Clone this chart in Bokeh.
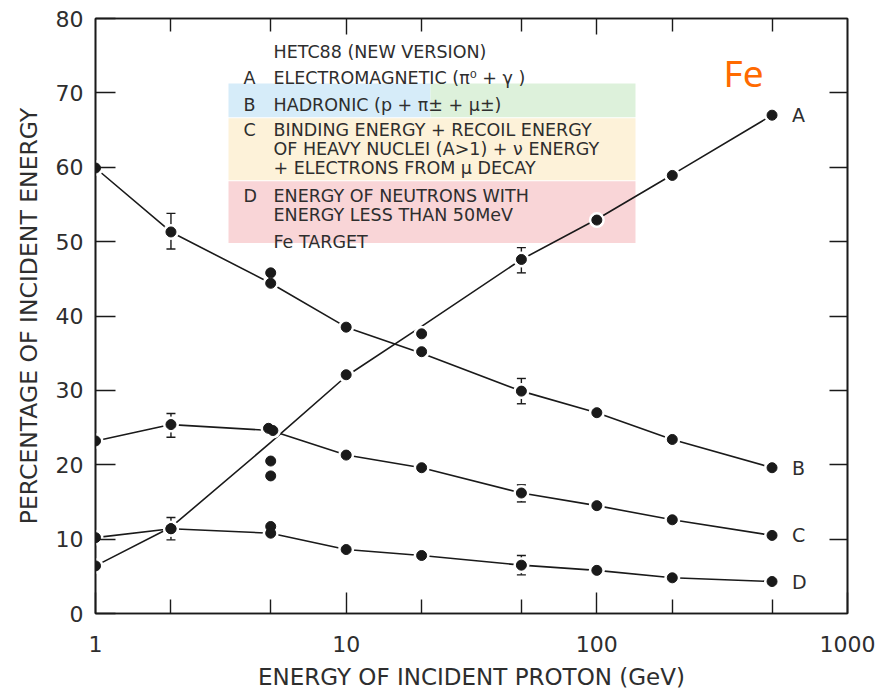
import math
from bokeh.plotting import figure
from bokeh.models import (FixedTicker, LogAxis, LinearAxis, BasicTickFormatter,
                          Whisker, TeeHead, ColumnDataSource)
from bokeh.core.properties import value
from bokeh.embed import file_html
from bokeh.resources import INLINE

# ---------------- data ----------------
energy = [1, 2, 5, 10, 20, 50, 100, 200, 500]

curve_A = [6.4, 11.6, 23.0, 31.9, 38.6, 47.6, 53.0, 59.0, 67.0]
curve_B = [59.9, 51.3, 44.4, 38.5, 35.0, 29.9, 27.0, 23.4, 19.6]
curve_C = [23.2, 25.4, 24.6, 21.3, 19.6, 16.2, 14.5, 12.6, 10.5]
curve_D = [10.2, 11.4, 10.8, 8.6, 7.8, 6.5, 5.8, 4.8, 4.3]

dots_A_x = [1, 2, 5, 5, 10, 20, 50, 100, 200, 500]
dots_A_y = [6.4, 11.4, 20.5, 18.5, 32.1, 37.6, 47.6, 52.9, 58.9, 67.0]
dots_B_x = [1, 2, 5, 5, 10, 20, 50, 100, 200, 500]
dots_B_y = [59.9, 51.3, 45.8, 44.4, 38.5, 35.2, 29.9, 27.0, 23.4, 19.6]
dots_C_x = [1, 2, 4.9, 5.1, 10, 20, 50, 100, 200, 500]
dots_C_y = [23.2, 25.4, 24.9, 24.6, 21.3, 19.6, 16.2, 14.5, 12.6, 10.5]
dots_D_x = [1, 2, 5, 5, 10, 20, 50, 100, 200, 500]
dots_D_y = [10.2, 11.4, 11.7, 10.8, 8.6, 7.8, 6.5, 5.8, 4.8, 4.3]

err_x  = [2, 2, 2, 50, 50, 50, 50]
err_lo = [9.9, 49.0, 23.7, 45.8, 28.2, 15.0, 5.2]
err_hi = [12.9, 53.8, 26.9, 49.2, 31.6, 17.3, 7.8]

series_names = ["A", "B", "C", "D"]

x_major_ticks = [1, 10, 100, 1000]
x_minor_ticks = [2, 5, 20, 50, 200, 500]
y_ticks = [0, 10, 20, 30, 40, 50, 60, 70, 80]
right_ticks = [10, 20, 30, 40, 50, 60, 70]

legend_rows = [
    ("", "HETC88 (NEW VERSION)"),
    ("A", "ELECTROMAGNETIC (\u03c0\u2070 + \u03b3 )"),
    ("B", "HADRONIC (p + \u03c0\u00b1 + \u03bc\u00b1)"),
    ("C", "BINDING ENERGY + RECOIL ENERGY"),
    ("", "OF HEAVY NUCLEI (A>1) + \u03bd  ENERGY"),
    ("", "+ ELECTRONS FROM \u03bc DECAY"),
    ("D", "ENERGY OF NEUTRONS WITH"),
    ("", "ENERGY LESS THAN 50MeV"),
    ("", "Fe TARGET"),
]

# ---------------- layout helpers (annotation placement, pixels) ----------------
FR_L, FR_R, FR_T, FR_B = 95, 847, 18, 614
DEC = (FR_R - FR_L) / 3.0

def px_x(px):
    return 10 ** ((px - FR_L) / DEC)

def px_y(py):
    return (FR_B - py) * 80.0 / (FR_B - FR_T)

INK = "#1a1a1a"
TXT = "#2e2e2e"
FONT = "DejaVu Sans"

p = figure(width=879, height=692, x_axis_type="log", x_range=(1, 1000), y_range=(0, 80),
           output_backend="svg", toolbar_location=None,
           min_border_left=FR_L, min_border_right=879 - FR_R,
           min_border_top=FR_T, min_border_bottom=692 - FR_B)
p.grid.visible = False
p.outline_line_color = INK
p.outline_line_width = 1.6
p.background_fill_color = "white"
p.border_fill_color = "white"

# axes
xa = p.xaxis[0]
xa.ticker = FixedTicker(ticks=x_major_ticks, minor_ticks=x_minor_ticks)
xa.formatter = BasicTickFormatter()
xa.major_tick_in = 21
xa.major_tick_out = 0
xa.minor_tick_in = 14
xa.minor_tick_out = 0
xa.axis_line_width = 1.6
xa.axis_line_color = INK
xa.major_tick_line_width = 1.4
xa.minor_tick_line_width = 1.4
xa.major_tick_line_color = INK
xa.minor_tick_line_color = INK
xa.major_label_standoff = 22
xa.major_label_text_font = FONT
xa.major_label_text_font_size = "22px"
xa.major_label_text_color = TXT
xa.axis_label = "ENERGY OF INCIDENT PROTON (GeV)"
xa.axis_label_text_font = FONT
xa.axis_label_text_font_size = "23px"
xa.axis_label_text_font_style = "normal"
xa.axis_label_text_color = TXT
xa.axis_label_standoff = 9

ya = p.yaxis[0]
ya.ticker = FixedTicker(ticks=y_ticks)
ya.major_tick_in = 20
ya.major_tick_out = 0
ya.minor_tick_line_color = None
ya.axis_line_width = 1.6
ya.axis_line_color = INK
ya.major_tick_line_width = 1.4
ya.major_tick_line_color = INK
ya.major_label_standoff = 12
ya.major_label_text_font = FONT
ya.major_label_text_font_size = "22px"
ya.major_label_text_color = TXT
ya.axis_label = "PERCENTAGE OF INCIDENT ENERGY"
ya.axis_label_text_font = FONT
ya.axis_label_text_font_size = "23.5px"
ya.axis_label_text_font_style = "normal"
ya.axis_label_text_color = TXT
ya.axis_label_standoff = 10

top = LogAxis(ticker=FixedTicker(ticks=[10, 100], minor_ticks=x_minor_ticks),
              major_tick_in=16, major_tick_out=0, minor_tick_in=13, minor_tick_out=0,
              major_label_text_font_size="2px", major_label_text_color=None,
              major_label_standoff=0,
              axis_line_color=INK, axis_line_width=1.6,
              major_tick_line_color=INK, minor_tick_line_color=INK,
              major_tick_line_width=1.4, minor_tick_line_width=1.4)
p.add_layout(top, "above")
right = LinearAxis(ticker=FixedTicker(ticks=right_ticks),
                   major_tick_in=18, major_tick_out=0, minor_tick_line_color=None,
                   major_label_text_font_size="2px", major_label_text_color=None,
                   major_label_standoff=0,
                   axis_line_color=INK, axis_line_width=1.6,
                   major_tick_line_color=INK, major_tick_line_width=1.4)
p.add_layout(right, "right")

# legend colour boxes
boxes = [
    (228, 430, 83, 117, "#d6ecf9"),
    (430, 635, 83, 117, "#ddf1db"),
    (228, 635, 118, 180, "#fdf2d9"),
    (228, 635, 181, 243, "#f9d5d7"),
]
p.quad(left=[px_x(b[0]) for b in boxes], right=[px_x(b[1]) for b in boxes],
       top=[px_y(b[2]) for b in boxes], bottom=[px_y(b[3]) for b in boxes],
       fill_color=[b[4] for b in boxes], line_color=None)

# legend text
row_py = [51.7, 77.7, 104.5, 130, 149, 168, 196, 215, 242]
p.text(x=[px_x(243)] * len(legend_rows), y=[px_y(v) for v in row_py],
       text=[r[0] for r in legend_rows], text_font=value(FONT), text_font_size="17.5px",
       text_color=TXT, text_baseline="middle", text_align="left")
p.text(x=[px_x(273)] * len(legend_rows), y=[px_y(v) for v in row_py],
       text=[r[1] for r in legend_rows], text_font=value(FONT), text_font_size="17.5px",
       text_color=TXT, text_baseline="middle", text_align="left")

# curves
for cv in (curve_A, curve_B, curve_C, curve_D):
    p.line(energy, cv, line_color=INK, line_width=1.6)

all_dx = dots_A_x + dots_B_x + dots_C_x + dots_D_x
all_dy = dots_A_y + dots_B_y + dots_C_y + dots_D_y
# white halos give the small gaps around the points
p.scatter(all_dx, all_dy, size=16, fill_color="white", line_color=None)

# error bars
src = ColumnDataSource(dict(x=err_x, lo=err_lo, hi=err_hi))
p.add_layout(Whisker(source=src, base="x", lower="lo", upper="hi",
                     line_color=INK, line_width=1.4,
                     upper_head=TeeHead(size=9, line_color=INK, line_width=1.4),
                     lower_head=TeeHead(size=9, line_color=INK, line_width=1.4)))

p.scatter(all_dx, all_dy, size=10, fill_color=INK, line_color=INK)

# series letters
p.text(x=[energy[-1]] * 4, y=[curve_A[-1], curve_B[-1], curve_C[-1], curve_D[-1]],
       text=series_names, x_offset=20, text_font=value(FONT), text_font_size="19px",
       text_color=TXT, text_baseline="middle", text_align="left")

# Fe marker
p.text(x=[px_x(743)], y=[px_y(72)], text=["Fe"], text_font=value("Noto Sans"),
       text_font_size="37px", text_color="#ff6a00", text_align="center",
       text_baseline="middle")

open("out.html", "w").write(file_html(p, INLINE))
